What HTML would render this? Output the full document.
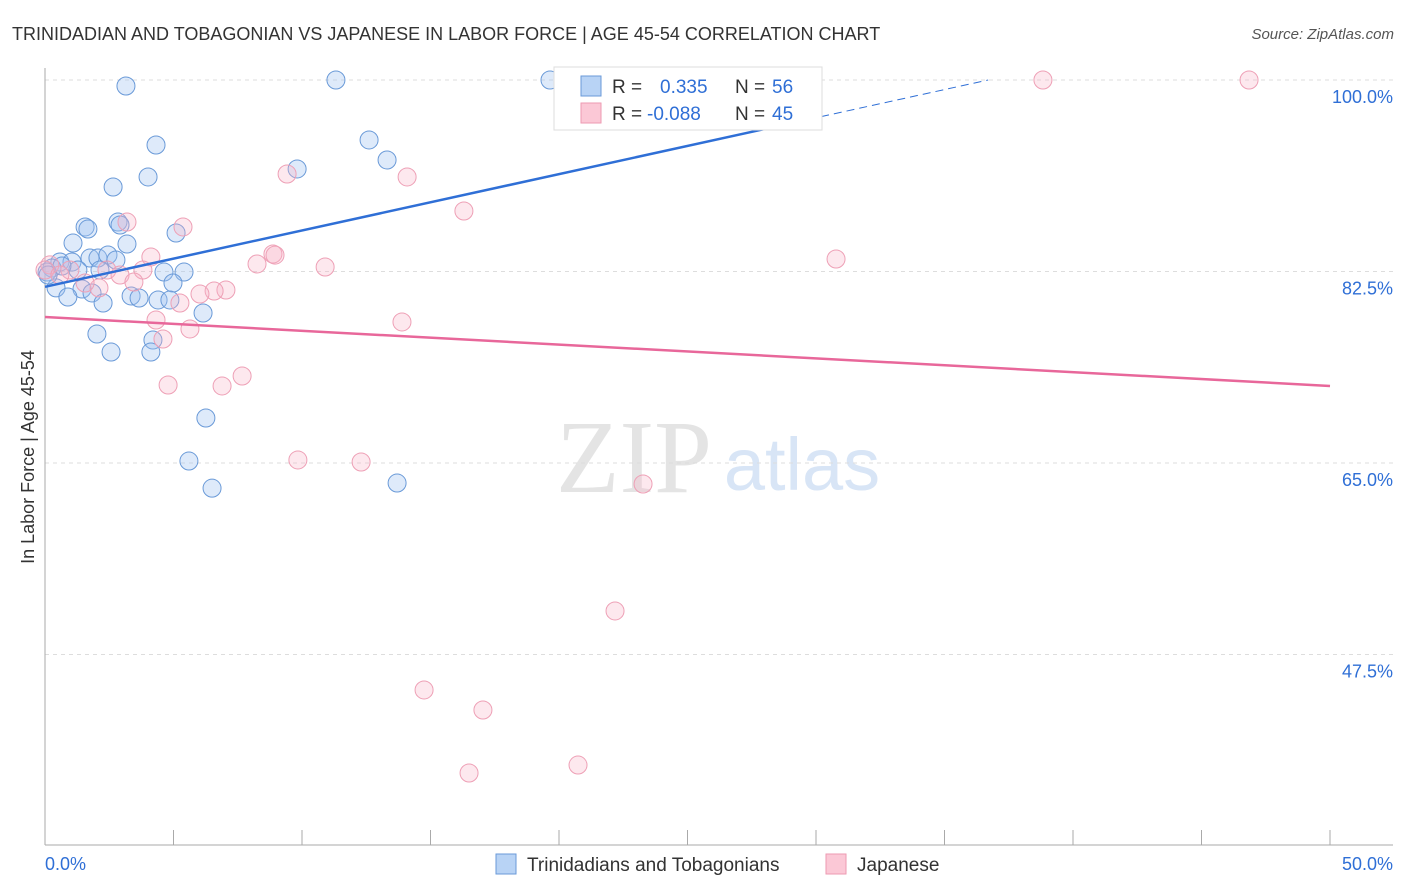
<!DOCTYPE html>
<html><head><meta charset="utf-8"><style>
body{margin:0;background:#fff;font-family:"Liberation Sans",sans-serif;}
#wrap{position:relative;width:1406px;height:892px;overflow:hidden;}
</style></head><body>
<div id="wrap">
<svg id="svg" width="1406" height="892" xmlns="http://www.w3.org/2000/svg">
<text x="12" y="40" font-size="18" fill="#333">TRINIDADIAN AND TOBAGONIAN VS JAPANESE IN LABOR FORCE | AGE 45-54 CORRELATION CHART</text>
<text x="1394" y="39" font-size="15" fill="#555" font-style="italic" text-anchor="end">Source: ZipAtlas.com</text>
<text x="634" y="492" font-size="104" fill="#e4e4e4" font-family="Liberation Serif" text-anchor="middle">ZIP</text>
<text x="802" y="490" font-size="74" fill="#d8e5f6" text-anchor="middle">atlas</text>
<text transform="translate(34,457) rotate(-90)" font-size="18" fill="#333" text-anchor="middle">In Labor Force | Age 45-54</text>
<g id="grid"></g><g id="axes"></g><g id="pts"></g><g id="lines"></g>
<g>
<rect x="554" y="67" width="268" height="63" fill="#fff" stroke="#ddd"/>
<rect x="581" y="76" width="20" height="20" fill="#b8d3f5" stroke="#6a9ad8"/>
<rect x="581" y="103" width="20" height="20" fill="#fbc8d6" stroke="#ee9ab2"/>
<text y="93" font-size="19" fill="#333"><tspan x="612">R =</tspan><tspan x="660" fill="#2f6fd6">0.335</tspan><tspan x="735">N =</tspan><tspan x="772" fill="#2f6fd6">56</tspan></text>
<text y="120" font-size="19" fill="#333"><tspan x="612">R =</tspan><tspan x="647" fill="#2f6fd6">-0.088</tspan><tspan x="735">N =</tspan><tspan x="772" fill="#2f6fd6">45</tspan></text>
</g>
<g>
<rect x="496" y="854" width="20" height="20" fill="#b8d3f5" stroke="#6a9ad8"/>
<text x="527" y="871" font-size="19" fill="#333">Trinidadians and Tobagonians</text>
<rect x="826" y="854" width="20" height="20" fill="#fbc8d6" stroke="#ee9ab2"/>
<text x="857" y="871" font-size="19" fill="#333">Japanese</text>
</g>
</svg></div>
<script>
const yTicks=[100,82.5,65,47.5];
const yTickLabels=["100.0%","82.5%","65.0%","47.5%"];
const blueX=[3.15,11.32,19.65,28.21,4.32,12.61,13.31,9.81,4.01,2.65,2.84,2.92,1.56,1.67,5.10,1.09,3.19,1.75,2.06,2.45,2.76,0.58,1.05,0.27,1.28,4.63,5.41,0.08,4.98,0.43,1.44,1.83,0.89,3.35,3.66,4.40,4.86,2.26,6.15,2.02,4.2,2.57,4.12,6.26,5.6,6.5,13.7,0.12,0.66,2.14];
const blueY=[99.45,100,100,100,94.06,94.52,92.69,91.87,91.14,90.22,87.02,86.75,86.57,86.38,86.02,85.1,85.01,83.73,83.73,84.01,83.55,83.37,83.37,82.82,82.64,82.45,82.45,82.45,81.45,81.0,80.9,80.54,80.17,80.26,80.08,79.9,79.9,79.62,78.71,76.79,76.24,75.14,75.14,69.11,65.18,62.7,63.17,82.18,83.0,82.64];
const pinkX=[38.83,46.85,9.42,14.09,16.3,3.19,5.37,8.87,8.95,4.12,30.78,8.25,10.9,3.81,2.41,2.92,0.19,0,0.97,3.46,2.1,7.04,6.58,6.03,5.25,4.32,13.89,5.64,4.59,7.67,4.79,6.89,9.84,12.3,23.27,22.18,14.75,17.04,16.5,20.74,0.58,1.56];
const pinkY=[100,100,91.41,91.14,88.03,87.02,86.57,84.1,84.0,83.83,83.64,83.19,82.91,82.64,82.64,82.18,83.1,82.64,82.64,81.54,81.0,80.81,80.72,80.44,79.62,78.07,77.89,77.25,76.33,72.95,72.13,72.04,65.28,65.09,63.08,51.48,44.26,42.43,36.67,37.4,82.18,81.45];
const blueTrend=[81.1,0.515];
const pinkTrend=[78.34,-0.126];
const NS="http://www.w3.org/2000/svg";
const X=v=>45+v*25.7, Y=v=>80+(100-v)*10.943;
function mk(t,a,p){const e=document.createElementNS(NS,t);for(const k in a)e.setAttribute(k,a[k]);document.getElementById(p).appendChild(e);return e;}
yTicks.forEach((t,i)=>{
 const l=mk('line',{x1:45,x2:1393,y1:Y(t),y2:Y(t),stroke:'#ddd','stroke-dasharray':'4,4'},'grid');
 
 
 const tx=mk('text',{x:1393,y:Y(t)+23,'font-size':18,fill:'#2f6fd6','text-anchor':'end'},'axes');
 tx.textContent=yTickLabels[i];
 
 
});
mk('line',{x1:45,x2:45,y1:68,y2:845,stroke:'#aaa'},'axes');
mk('line',{x1:45,x2:1393,y1:845,y2:845,stroke:'#aaa'},'axes');
for(let i=0;i<=10;i++){mk('line',{x1:X(i*5),x2:X(i*5),y1:830,y2:845,stroke:'#aaa'},'axes');}
const x0=mk('text',{x:45,y:870,'font-size':18,fill:'#2f6fd6'},'axes');x0.textContent='0.0%';


const x1=mk('text',{x:1393,y:870,'font-size':18,fill:'#2f6fd6','text-anchor':'end'},'axes');x1.textContent='50.0%';


blueX.forEach((v,i)=>{const c=mk('circle',{cx:X(v),cy:Y(blueY[i]),r:9,fill:'rgba(160,195,240,0.35)',stroke:'#6a9ad8','stroke-width':1},'pts');
 
 });
pinkX.forEach((v,i)=>{const c=mk('circle',{cx:X(v),cy:Y(pinkY[i]),r:9,fill:'rgba(248,180,200,0.3)',stroke:'#eea0b6','stroke-width':1},'pts');
 
 });
const bEnd=30.2, bDash=(100-blueTrend[0])/blueTrend[1];
const bl=mk('line',{x1:X(0),y1:Y(blueTrend[0]),x2:X(bEnd),y2:Y(blueTrend[0]+blueTrend[1]*bEnd),stroke:'#2f6fd6','stroke-width':2.5},'lines');


const bd=mk('line',{x1:X(bEnd),y1:Y(blueTrend[0]+blueTrend[1]*bEnd),x2:X(bDash),y2:Y(100),stroke:'#2f6fd6','stroke-width':1,'stroke-dasharray':'8,5'},'lines');


const pl=mk('line',{x1:X(0),y1:Y(pinkTrend[0]),x2:X(50),y2:Y(pinkTrend[0]+pinkTrend[1]*50),stroke:'#e8679a','stroke-width':2.5},'lines');


</script>
</body></html>
